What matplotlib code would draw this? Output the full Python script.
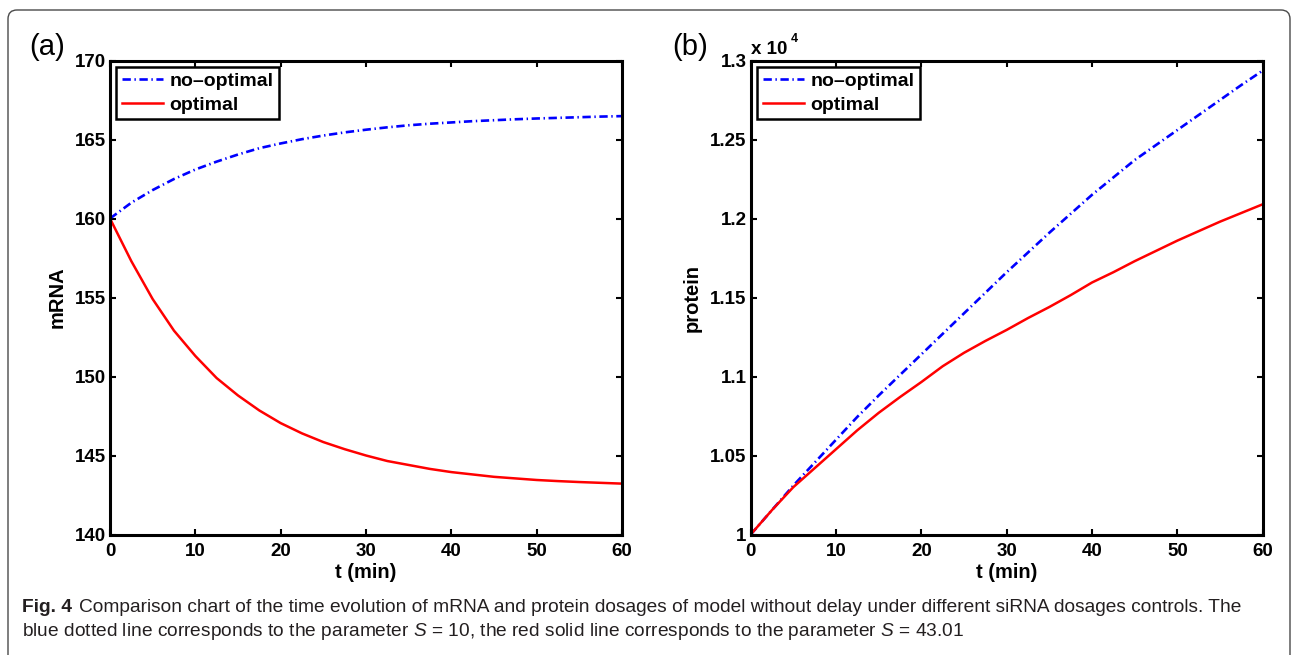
import numpy as np
import matplotlib
matplotlib.use('Agg')
import matplotlib.pyplot as plt
from matplotlib import font_manager
from matplotlib.patches import FancyBboxPatch
from matplotlib.transforms import IdentityTransform

# Datos (t en minutos)
t = [0, 2.5, 5, 7.5, 10, 12.5, 15, 17.5, 20, 22.5, 25, 27.5, 30,
     32.5, 35, 37.5, 40, 42.5, 45, 47.5, 50, 52.5, 55, 57.5, 60]

mrna_no_optimal = [160.0, 161.0, 161.8, 162.5, 163.1, 163.6, 164.05, 164.45, 164.75,
                   165.02, 165.25, 165.45, 165.62, 165.77, 165.9, 166.0, 166.08,
                   166.16, 166.22, 166.28, 166.33, 166.37, 166.41, 166.45, 166.48]
mrna_optimal = [160.0, 157.3, 154.9, 152.9, 151.3, 149.9, 148.8, 147.85, 147.05,
                146.4, 145.85, 145.4, 145.0, 144.65, 144.4, 144.15, 143.95,
                143.8, 143.65, 143.55, 143.45, 143.38, 143.32, 143.27, 143.22]

# proteina en unidades de 10^4
protein_no_optimal = [1.000, 1.0155, 1.031, 1.0455, 1.060, 1.0745, 1.088, 1.101, 1.114,
                      1.127, 1.140, 1.153, 1.166, 1.1785, 1.191, 1.203, 1.215,
                      1.226, 1.237, 1.2465, 1.256, 1.2655, 1.275, 1.2845, 1.2936]
protein_optimal = [1.000, 1.0155, 1.030, 1.042, 1.054, 1.066, 1.077, 1.087, 1.0965,
                   1.1065, 1.115, 1.1225, 1.1295, 1.137, 1.144, 1.1515, 1.1595,
                   1.166, 1.173, 1.1795, 1.186, 1.192, 1.198, 1.2035, 1.209]

x_ticks = [0, 10, 20, 30, 40, 50, 60]
mrna_ticks = [140, 145, 150, 155, 160, 165, 170]
protein_ticks = [1, 1.05, 1.1, 1.15, 1.2, 1.25, 1.3]
labels = ['no\u2013optimal', 'optimal']
caption_1 = ('Comparison chart of the time evolution of mRNA and protein dosages of model '
             'without delay under different siRNA dosages controls. The')
caption_2 = ('blue dotted line corresponds to the parameter $S$ = 10, the red solid line '
             'corresponds to the parameter $S$ = 43.01')

# Fuentes
names = {f.name for f in font_manager.fontManager.ttflist}
cap_font = 'Liberation Sans Narrow' if 'Liberation Sans Narrow' in names else 'Liberation Sans'
plt.rcParams['font.family'] = ['Liberation Sans', 'DejaVu Sans']
plt.rcParams['mathtext.fontset'] = 'custom'
plt.rcParams['mathtext.rm'] = cap_font
plt.rcParams['mathtext.it'] = cap_font + ':italic'
plt.rcParams['lines.scale_dashes'] = False

W, H = 1291, 655
fig = plt.figure(figsize=(W / 100, H / 100), dpi=100)

# Marco redondeado alrededor de la figura
fig.add_artist(FancyBboxPatch((8, -60), 1282, H - 10 + 60,
                              boxstyle='round,pad=0,rounding_size=9',
                              transform=IdentityTransform(), fill=False,
                              ec='#4a4a4a', lw=1.0))

ax_a = fig.add_axes([110 / W, 1 - 534.5 / H, 512 / W, 474 / H])
ax_b = fig.add_axes([750.7 / W, 1 - 534.5 / H, 512 / W, 474 / H])

dash = (6.0, 2.6, 1.0, 2.6)


def style_axes(ax, yticks, ylabel):
    ax.set_xlim(0, 60)
    ax.set_ylim(yticks[0], yticks[-1])
    ax.set_xticks(x_ticks)
    ax.set_yticks(yticks)
    ax.set_xticklabels([f'{v:g}' for v in x_ticks])
    ax.set_yticklabels([f'{v:g}' for v in yticks])
    ax.tick_params(direction='in', top=True, right=True, length=4, width=1.5,
                   labelsize=13.5, pad=3)
    ax.tick_params(axis='x', pad=6)
    for lab in ax.get_xticklabels() + ax.get_yticklabels():
        lab.set_fontweight('bold')
    for sp in ax.spines.values():
        sp.set_linewidth(2.2)
    ax.set_xlabel('t (min)', fontsize=14.5, fontweight='bold', labelpad=2)
    ax.set_ylabel(ylabel, fontsize=14.5, fontweight='bold', labelpad=6)
    leg = ax.legend(loc='upper left', bbox_to_anchor=(0.012, 0.987), borderaxespad=0,
                    fancybox=False, edgecolor='black', framealpha=1,
                    prop={'weight': 'bold', 'size': 14}, handlelength=2.1,
                    handletextpad=0.35, borderpad=0.3, labelspacing=0.3)
    leg.get_frame().set_linewidth(1.8)


# (a) mRNA
ax_a.plot(t, mrna_no_optimal, color='#0000ff', lw=1.9, dashes=dash, label=labels[0])
ax_a.plot(t, mrna_optimal, color='#ff0000', lw=1.8, label=labels[1])
style_axes(ax_a, mrna_ticks, 'mRNA')

# (b) proteina
ax_b.plot(t, protein_no_optimal, color='#0000ff', lw=1.9, dashes=dash, label=labels[0])
ax_b.plot(t, protein_optimal, color='#ff0000', lw=1.8, label=labels[1])
style_axes(ax_b, protein_ticks, 'protein')
ax_b.text(0.0, 1.006, 'x 10', transform=ax_b.transAxes, fontsize=13.5,
          fontweight='bold', ha='left', va='bottom')
ax_b.text(0.078, 1.032, '4', transform=ax_b.transAxes, fontsize=9,
          fontweight='bold', ha='left', va='bottom')

# Etiquetas de panel
fig.text(29 / W, 1 - 47 / H, '(a)', fontsize=21, ha='left', va='center')
fig.text(672 / W, 1 - 47 / H, '(b)', fontsize=21, ha='left', va='center')

# Pie de figura
cap_color = '#231f20'
cap_size = 13.8
t1 = fig.text(22 / W, 1 - 607 / H, 'Fig. 4', fontsize=cap_size, fontweight='bold',
              family=cap_font, color=cap_color, va='center')
r = fig.canvas.get_renderer()
bb = t1.get_window_extent(r)
fig.text((bb.x1 + 7) / W, 1 - 607 / H, caption_1, fontsize=cap_size, family=cap_font,
         color=cap_color, va='center')
fig.text(22 / W, 1 - 632 / H, caption_2, fontsize=cap_size, family=cap_font,
         color=cap_color, va='center')

plt.savefig('out.png', dpi=100)
